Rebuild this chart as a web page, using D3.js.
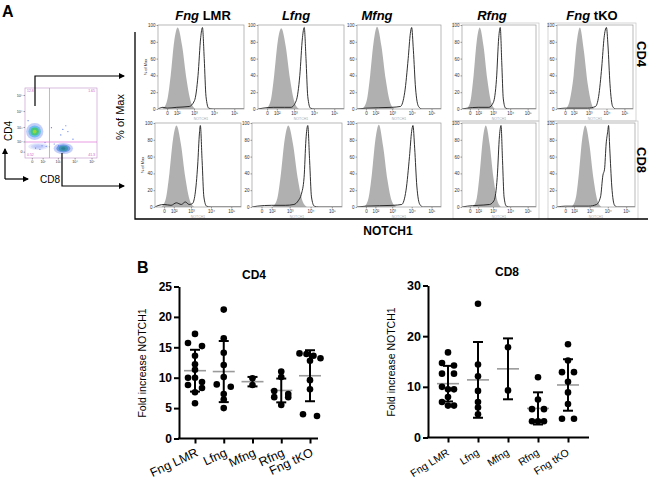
<!DOCTYPE html>
<html>
<head>
<meta charset="utf-8">
<script src="https://cdn.jsdelivr.net/npm/d3@7"></script>
<style>
  body { margin: 0; background: #fff; }
  svg { display: block; }
</style>
</head>
<body>
<svg id="fig" width="650" height="483"></svg>
<script>
/**
 * @Data
 */
const groups = ['Fng LMR', 'Lfng', 'Mfng', 'Rfng', 'Fng tKO']

// fold increase of NOTCH1, one array per genotype
const cd4Fold = [
    [17.2, 15.7, 15.2, 13.6, 12.2, 11.3, 10.0, 10.0, 9.3, 8.8, 8.3, 7.6, 5.8],
    [21.2, 16.5, 14.1, 12.1, 10.1, 8.9, 8.5, 7.3, 6.4, 5.0],
    [9.9, 8.8],
    [11.0, 10.1, 7.8, 7.3, 6.8, 6.8, 5.5],
    [14.0, 13.9, 13.6, 13.2, 12.8, 9.6, 8.1, 4.0, 3.7]
]
const cd8Fold = [
    [16.8, 14.7, 14.2, 12.6, 12.6, 10.0, 9.5, 9.5, 8.0, 7.0, 6.3, 6.3],
    [26.4, 14.4, 12.1, 9.2, 7.0, 5.9, 4.6],
    [17.8, 9.3],
    [11.9, 7.5, 5.6, 5.6, 3.2, 3.2, 3.2],
    [18.4, 15.2, 12.9, 12.9, 11.0, 8.9, 6.6, 3.7, 3.7]
]

// histogram outlines: [NOTCH1 intensity, % of max]
const grayCD4 = [
    [[-32,0],[0,10],[25,40],[61,80],[116,97],[224,75],[401,35],[694,8],[1177,0]],
    [[-5,0],[25,10],[61,40],[116,80],[198,96],[358,75],[623,35],[1060,8],[1780,0]],
    [[-25,0],[5,10],[32,40],[73,80],[133,98],[252,75],[449,35],[772,8],[1306,0]],
    [[-25,0],[5,10],[32,40],[73,80],[133,97],[252,75],[449,35],[772,8],[1306,0]],
    [[5,0],[41,10],[100,40],[174,80],[284,97],[501,70],[858,30],[1448,6],[1972,0]]
]
const notchCD4 = [
    [[-90,0],[-30,2],[0,1],[100,2],[559,3],[1060,10],[1606,40],[2185,85],[2680,97],[3284,60],[4023,15],[5445,1],[9014,0],[300000,0]],
    [[-90,0],[-30,1],[50,2],[300,2],[694,2],[1306,10],[1972,40],[2680,85],[3284,97],[4023,60],[4924,15],[6665,1],[11022,0],[300000,0]],
    [[-90,0],[0,1],[954,2],[2680,3],[4451,20],[6665,60],[8570,90],[9965,97],[12185,70],[15660,25],[22200,3],[33200,0],[300000,0]],
    [[-90,0],[-20,1],[100,2],[559,2],[1060,8],[1606,35],[2185,85],[2680,97],[3284,55],[4023,12],[5445,1],[9014,0],[300000,0]],
    [[-90,0],[0,1],[858,1],[2420,3],[3635,15],[5445,50],[7371,85],[9965,97],[12185,75],[15660,30],[22200,3],[33200,0],[300000,0]]
]
const grayCD8 = [
    [[-17,0],[11,10],[41,40],[86,80],[153,97],[284,75],[501,35],[858,8],[1448,0]],
    [[116,0],[224,10],[358,40],[559,80],[858,97],[1448,75],[2420,35],[4023,8],[6665,0]],
    [[-11,0],[17,10],[51,40],[100,80],[174,98],[319,72],[559,32],[954,7],[1606,0]],
    [[25,0],[73,10],[133,40],[224,80],[358,97],[623,75],[1060,35],[1780,8],[2967,0]],
    [[61,0],[133,10],[224,40],[358,80],[559,97],[954,75],[1606,35],[2680,8],[4451,0]]
]
const notchCD8 = [
    [[-90,0],[-40,2],[0,3],[60,2],[150,5],[300,3],[500,6],[800,3],[1177,4],[1606,15],[2185,50],[2680,88],[2967,97],[3635,55],[4451,12],[6025,1],[9965,0],[300000,0]],
    [[-90,0],[-30,1],[100,2],[600,2],[1606,3],[2680,8],[3635,15],[4924,35],[6025,80],[7371,97],[9014,55],[11022,12],[14895,1],[24600,0],[300000,0]],
    [[-90,0],[0,1],[1117,2],[3122,3],[5180,20],[7750,60],[9965,90],[11600,97],[14165,70],[18200,25],[25850,3],[38590,0],[300000,0]],
    [[-90,0],[-20,1],[100,2],[623,3],[1177,8],[1780,35],[2420,85],[2967,97],[3635,55],[4451,12],[6025,1],[9965,0],[300000,0]],
    [[-90,0],[0,1],[858,1],[2420,3],[4023,12],[5445,38],[6665,45],[8150,75],[9965,90],[11022,97],[12810,70],[16465,25],[23400,2],[33200,0],[300000,0]]
]

const histTicks = [0, 100, 1000, 10000, 100000]
const histTickLabels = ['0', '10²', '10³', '10⁴', '10⁵']
const pctTicks = [0, 20, 40, 60, 80, 100]

// CD4 / CD8 dot plot: populations as [low, centre, high] intensity
const popNames = ['CD4+', 'CD8+', 'DN']
const popCD8 = [[-36, 1, 114], [549, 2640, 8070], [-20, 60, 258]]
const popCD4 = [[130, 469, 1780], [-12, 21, 74], [8, 30, 74]]
const sparseEvents = [[2000, 700], [4000, 500], [1500, 300], [150, 80], [600, 60], [300, 30], [8000, 150], [90, 40],
    [20, 20], [180, 35], [60, 12], [1100, 40], [3000, 1200], [-20, 2500], [400, 900]]
const quadrantPct = ['12.8', '1.65', '0.52', '41.3']

/**
 * @Setup
 */
const FONT = '"Liberation Sans", Arial, sans-serif'
const svg = d3.select('#fig').attr('font-family', FONT)

svg.append('defs').append('marker')
    .attr('id', 'arrow')
    .attr('viewBox', '0 0 6 6')
    .attr('refX', 5).attr('refY', 3)
    .attr('markerWidth', 6).attr('markerHeight', 6)
    .attr('markerUnits', 'userSpaceOnUse')
    .attr('orient', 'auto')
    .append('path').attr('d', 'M0,0 L6,3 L0,6 Z').attr('fill', '#000')

svg.append('text').text('A').attr('x', 2).attr('y', 17)
    .attr('font-size', 16).attr('font-weight', 'bold')

/**
 * @FlowPlot
 */
const fx = d3.scaleSymlog().constant(30).domain([-46, 210000]).range([25, 97])
const fy = d3.scaleSymlog().constant(30).domain([-44, 272000]).range([158, 88])
const flow = svg.append('g')

const popColors = [
    ['#8aa0f4', '#5fb8ee', '#45c87a', '#9ad83a'],
    ['#8aa0f4', '#5a8fe0', '#3a93b0', '#2c7f96'],
    ['#b8c4f7', '#a9b8f6', '#a9b8f6', '#a9b8f6']
]
const popOpacity = [[0.5, 0.85, 0.95, 1], [0.5, 0.8, 0.95, 1], [0.35, 0.35, 0.35, 0.35]]
const levels = [1, 0.72, 0.48, 0.22]
popNames.forEach((name, i) => {
    const cx = (fx(popCD8[i][0]) + fx(popCD8[i][2])) / 2
    const cy = (fy(popCD4[i][0]) + fy(popCD4[i][2])) / 2
    const rx = (fx(popCD8[i][2]) - fx(popCD8[i][0])) / 2
    const ry = (fy(popCD4[i][0]) - fy(popCD4[i][2])) / 2
    levels.forEach((f, k) => {
        flow.append('ellipse')
            .attr('cx', cx).attr('cy', cy)
            .attr('rx', rx * f).attr('ry', ry * f)
            .attr('fill', popColors[i][k])
            .attr('opacity', popOpacity[i][k])
    })
})
flow.selectAll('.event').data(sparseEvents).enter().append('circle')
    .attr('cx', d => fx(d[0])).attr('cy', d => fy(d[1]))
    .attr('r', 0.6).attr('fill', '#5577ee')

flow.append('rect').attr('x', 25).attr('y', 88).attr('width', 72).attr('height', 70)
    .attr('fill', 'none').attr('stroke', '#c9a0d0').attr('stroke-width', 0.7)
flow.append('line').attr('x1', fx(300)).attr('x2', fx(300)).attr('y1', 88).attr('y2', 158)
    .attr('stroke', '#e070d8').attr('stroke-width', 0.7)
flow.append('line').attr('x1', 25).attr('x2', 97).attr('y1', fy(90)).attr('y2', fy(90))
    .attr('stroke', '#e070d8').attr('stroke-width', 0.7)

const fya = flow.append('g').attr('transform', 'translate(25,0)')
    .call(d3.axisLeft(fy).tickValues(histTicks).tickFormat((d, i) => histTickLabels[i]).tickSize(1.5).tickPadding(1))
const fxa = flow.append('g').attr('transform', 'translate(0,158)')
    .call(d3.axisBottom(fx).tickValues(histTicks).tickFormat((d, i) => histTickLabels[i]).tickSize(1.5).tickPadding(1))
;[fya, fxa].forEach(a => {
    a.attr('font-size', 3.8).attr('font-family', FONT)
    a.select('.domain').remove()
    a.selectAll('line').attr('stroke', '#444').attr('stroke-width', 0.5)
    a.selectAll('text').attr('fill', '#333')
})
const qpos = [[27, 92, 'start'], [95, 92, 'end'], [27, 156, 'start'], [95, 156, 'end']]
quadrantPct.forEach((t, i) => {
    flow.append('text').text(t).attr('x', qpos[i][0]).attr('y', qpos[i][1])
        .attr('text-anchor', qpos[i][2]).attr('font-size', 3.5).attr('fill', '#d060c8')
})

svg.append('text').text('CD4').attr('transform', 'translate(12,131) rotate(-90)')
    .attr('text-anchor', 'middle').attr('font-size', 10)
svg.append('text').text('CD8').attr('x', 40).attr('y', 183).attr('font-size', 10)

const arrows = ['M5,179 V149', 'M5,179 H28', 'M35,106 V76 H124', 'M62,153 V186 H124']
arrows.forEach(d => {
    svg.append('path').attr('d', d).attr('fill', 'none')
        .attr('stroke', '#000').attr('stroke-width', 1.2)
        .attr('marker-end', 'url(#arrow)')
})

/**
 * @Histograms
 */
const hx = d3.scaleSymlog().constant(50).domain([-90, 300000])
const HIST_H = 84
const histRows = [
    { top: 25, lefts: [158, 258, 357, 462, 557], widths: [86, 86, 84, 74, 76], gray: grayCD4, line: notchCD4 },
    { top: 123, lefts: [155, 252, 357, 462, 557], widths: [86, 90, 84, 74, 78], gray: grayCD8, line: notchCD8 }
]

histRows.forEach((row, ri) => {
    groups.forEach((name, ci) => {
        const left = row.lefts[ci], w = row.widths[ci]
        const top = row.top, bottom = top + HIST_H
        const x = hx.copy().range([left, left + w])
        const y = d3.scaleLinear().domain([0, 100]).range([bottom, top])
        const g = svg.append('g')

        if (ci >= 3) {
            g.append('rect').attr('x', left - 9).attr('y', top - 2)
                .attr('width', w + 12).attr('height', HIST_H + 14)
                .attr('fill', 'none').attr('stroke', '#c4c4c4').attr('stroke-width', 0.7)
        }

        const clipId = `clip-${ri}-${ci}`
        g.append('clipPath').attr('id', clipId).append('rect')
            .attr('x', left).attr('y', top).attr('width', w).attr('height', HIST_H)

        g.append('path').datum(row.gray[ci])
            .attr('clip-path', `url(#${clipId})`)
            .attr('d', d3.area().x(d => x(d[0])).y0(bottom).y1(d => y(d[1])).curve(d3.curveMonotoneX))
            .attr('fill', '#b0b0b0')

        g.append('path').datum(row.line[ci])
            .attr('clip-path', `url(#${clipId})`)
            .attr('d', d3.line().x(d => x(d[0])).y(d => y(d[1])).curve(d3.curveMonotoneX))
            .attr('fill', 'none').attr('stroke', '#1a1a1a').attr('stroke-width', 0.9)

        g.append('rect').attr('x', left).attr('y', top).attr('width', w).attr('height', HIST_H)
            .attr('fill', 'none').attr('stroke', '#9a9a9a').attr('stroke-width', 0.7)

        const ya = g.append('g').attr('transform', `translate(${left},0)`)
            .call(d3.axisLeft(y).tickValues(pctTicks).tickSize(1.5).tickPadding(1))
        const xa = g.append('g').attr('transform', `translate(0,${bottom})`)
            .call(d3.axisBottom(x).tickValues(histTicks).tickFormat((d, i) => histTickLabels[i]).tickSize(1.5).tickPadding(1.5))
        ;[ya, xa].forEach(a => {
            a.attr('font-size', 4.5).attr('font-family', FONT)
            a.select('.domain').remove()
            a.selectAll('line').attr('stroke', '#444').attr('stroke-width', 0.5)
            a.selectAll('text').attr('fill', '#333')
        })

        g.append('text').text('NOTCH1')
            .attr('x', left + w / 2).attr('y', bottom + 11)
            .attr('text-anchor', 'middle').attr('font-size', 3.5).attr('fill', '#aaa')

        if (ci === 0) {
            g.append('text').text('% of Max')
                .attr('transform', `translate(${left - 11},${(top + bottom) / 2}) rotate(-90)`)
                .attr('text-anchor', 'middle').attr('font-size', 4).attr('fill', '#333')
        }
    })
})

// column titles
const titleCenters = [203, 296, 377, 492, 592]
const titleParts = [['Fng', ' LMR'], ['Lfng', ''], ['Mfng', ''], ['Rfng', ''], ['Fng', ' tKO']]
titleParts.forEach((p, i) => {
    const t = svg.append('text').attr('x', titleCenters[i]).attr('y', 20)
        .attr('text-anchor', 'middle').attr('font-size', 13).attr('font-weight', 'bold')
    t.append('tspan').text(p[0]).attr('font-style', 'italic')
    if (p[1]) t.append('tspan').text(p[1])
})

svg.append('text').text('CD4').attr('transform', 'translate(637,54) rotate(90)')
    .attr('text-anchor', 'middle').attr('font-size', 13).attr('font-weight', 'bold')
svg.append('text').text('CD8').attr('transform', 'translate(637,160) rotate(90)')
    .attr('text-anchor', 'middle').attr('font-size', 13).attr('font-weight', 'bold')

svg.append('path').attr('d', 'M135,32 V219 H648').attr('fill', 'none')
    .attr('stroke', '#000').attr('stroke-width', 1.3)
svg.append('text').text('% of Max').attr('transform', 'translate(124,117) rotate(-90)')
    .attr('text-anchor', 'middle').attr('font-size', 11)
svg.append('text').text('NOTCH1').attr('x', 388).attr('y', 235)
    .attr('text-anchor', 'middle').attr('font-size', 12).attr('font-weight', 'bold')

/**
 * @PanelB
 */
svg.append('text').text('B').attr('x', 137).attr('y', 273)
    .attr('font-size', 16).attr('font-weight', 'bold')

function swarm(vals, y, offset, diam) {
    const sorted = vals.slice().sort((a, b) => b - a)
    const out = []
    let row = []
    const flush = () => {
        const n = row.length
        row.forEach((v, k) => {
            const dx = n === 1 ? 0 : n === 2 ? (k ? offset : -offset) : (k - (n - 1) / 2) * offset
            out.push({ v, dx })
        })
        row = []
    }
    sorted.forEach(v => {
        if (row.length && Math.abs(y(row[0]) - y(v)) >= diam * 0.75) flush()
        row.push(v)
    })
    flush()
    return out
}

function dotPlot(o) {
    const g = svg.append('g')
    const y = d3.scaleLinear().domain([0, o.yMax]).range(o.yRange)
    const x = d3.scalePoint().domain(groups).range(o.pointRange)
    const axisY = o.yRange[0]

    g.append('text').text(o.title).attr('x', o.titlePos[0]).attr('y', o.titlePos[1])
        .attr('text-anchor', 'middle').attr('font-size', 12).attr('font-weight', 'bold')
    g.append('text').text('Fold increase NOTCH1')
        .attr('transform', `translate(${o.labelPos[0]},${o.labelPos[1]}) rotate(-90)`)
        .attr('text-anchor', 'middle').attr('font-size', 10.5)

    // data
    o.values.forEach((vals, i) => {
        const cx = x(groups[i])
        const m = d3.mean(vals), sd = d3.deviation(vals)
        g.append('line').attr('x1', cx - 11).attr('x2', cx + 11)
            .attr('y1', y(m)).attr('y2', y(m))
            .attr('stroke', '#9a9a9a').attr('stroke-width', 1.6)
        g.selectAll(null).data(swarm(vals, y, o.offset, o.r * 2)).enter().append('circle')
            .attr('cx', d => cx + d.dx).attr('cy', d => y(d.v))
            .attr('r', o.r).attr('fill', '#000')
        g.append('line').attr('x1', cx).attr('x2', cx)
            .attr('y1', y(m - sd)).attr('y2', y(m + sd))
            .attr('stroke', '#000').attr('stroke-width', 2)
        ;[m - sd, m + sd].forEach(v => {
            g.append('line').attr('x1', cx - 5).attr('x2', cx + 5)
                .attr('y1', y(v)).attr('y2', y(v))
                .attr('stroke', '#000').attr('stroke-width', 2)
        })
    })

    // axes
    const ya = g.append('g').attr('transform', `translate(${o.axisX},0)`)
        .call(d3.axisLeft(y).tickValues(d3.range(0, o.yMax + 1, o.yStep)).tickSize(5).tickSizeOuter(0).tickPadding(2))
    ya.attr('font-family', FONT).attr('font-size', o.tickFont).attr('font-weight', 'bold')
    ya.selectAll('path, line').attr('stroke', '#000').attr('stroke-width', 2)
    ya.selectAll('text').attr('fill', '#000')

    const xa = g.append('g').attr('transform', `translate(0,${axisY})`)
        .call(d3.axisBottom(x).tickSize(5).tickSizeOuter(0).tickFormat(''))
    xa.select('.domain').remove()
    xa.selectAll('line').attr('stroke', '#000').attr('stroke-width', 2)
    g.append('line').attr('x1', o.axisX - 1).attr('x2', o.axisEnd)
        .attr('y1', axisY).attr('y2', axisY)
        .attr('stroke', '#000').attr('stroke-width', 2)

    g.selectAll(null).data(groups).enter().append('text')
        .text(d => d)
        .attr('text-anchor', 'end')
        .attr('font-size', o.catFont)
        .attr('transform', d => `translate(${x(d) + o.labelShift[0]},${axisY + o.labelShift[1]}) rotate(${o.angle})`)
}

dotPlot({
    values: cd4Fold, yMax: 25, yStep: 5, yRange: [438.5, 286.5],
    axisX: 179, axisEnd: 318, pointRange: [195, 310],
    title: 'CD4', titlePos: [254, 279], labelPos: [146, 363],
    tickFont: 12, catFont: 12.5, angle: -25, labelShift: [4, 17],
    offset: 7, r: 3.3
})
dotPlot({
    values: cd8Fold, yMax: 30, yStep: 10, yRange: [437.5, 285.5],
    axisX: 428, axisEnd: 589, pointRange: [448, 568],
    title: 'CD8', titlePos: [507, 276], labelPos: [395, 362],
    tickFont: 12.5, catFont: 10.5, angle: -32, labelShift: [2, 17],
    offset: 6, r: 3.3
})
</script>
</body>
</html>
